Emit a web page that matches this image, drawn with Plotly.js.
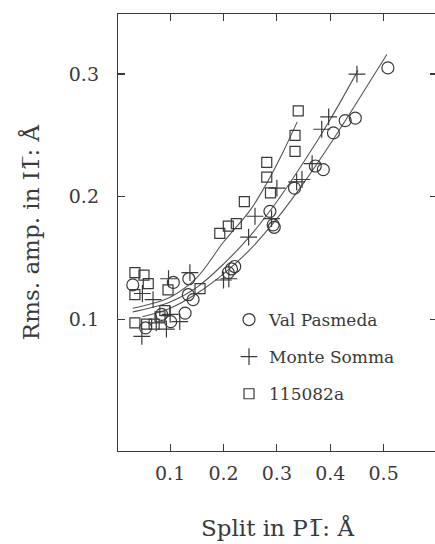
<!DOCTYPE html>
<html>
<head>
<meta charset="utf-8">
<script src="https://cdn.plot.ly/plotly-3.0.1.min.js"></script>
<style>html,body{margin:0;padding:0;overflow:hidden;background:#fff;width:435px;height:544px;}</style>
</head>
<body>
<div id="chart"></div>
<script>
// Data
var seriesNames = ["Val Pasmeda", "Monte Somma", "115082a"];

var valPasmedaX = [0.030, 0.054, 0.084, 0.101, 0.106, 0.128, 0.135, 0.134, 0.143, 0.209, 0.215, 0.221, 0.287, 0.293, 0.295, 0.333, 0.372, 0.387, 0.406, 0.428, 0.447, 0.508];
var valPasmedaY = [0.128, 0.093, 0.104, 0.098, 0.130, 0.105, 0.133, 0.120, 0.116, 0.138, 0.141, 0.143, 0.188, 0.177, 0.175, 0.207, 0.225, 0.222, 0.252, 0.262, 0.264, 0.305];

var monteSommaX = [0.048, 0.047, 0.068, 0.074, 0.093, 0.097, 0.100, 0.118, 0.137, 0.200, 0.210, 0.247, 0.259, 0.290, 0.300, 0.337, 0.347, 0.366, 0.384, 0.397, 0.450];
var monteSommaY = [0.121, 0.086, 0.116, 0.097, 0.092, 0.133, 0.104, 0.098, 0.138, 0.132, 0.133, 0.167, 0.184, 0.182, 0.207, 0.212, 0.214, 0.227, 0.255, 0.265, 0.300];

var s115082aX = [0.034, 0.051, 0.059, 0.034, 0.034, 0.056, 0.070, 0.081, 0.090, 0.096, 0.156, 0.193, 0.209, 0.224, 0.239, 0.281, 0.281, 0.288, 0.334, 0.334, 0.340];
var s115082aY = [0.138, 0.136, 0.129, 0.120, 0.097, 0.096, 0.096, 0.102, 0.107, 0.124, 0.125, 0.170, 0.176, 0.178, 0.196, 0.228, 0.216, 0.203, 0.250, 0.237, 0.270];

// Fitted curves
var fitValPasmedaX = [0.048, 0.10, 0.15, 0.20, 0.25, 0.30, 0.35, 0.40, 0.45, 0.506];
var fitValPasmedaY = [0.102, 0.109, 0.121, 0.137, 0.157, 0.182, 0.211, 0.243, 0.277, 0.316];
var fitMonteSommaX = [0.030, 0.06, 0.10, 0.15, 0.20, 0.25, 0.30, 0.35, 0.40, 0.452];
var fitMonteSommaY = [0.106, 0.109, 0.114, 0.126, 0.145, 0.168, 0.196, 0.228, 0.263, 0.303];
var fit115082aX = [0.030, 0.06, 0.10, 0.15, 0.20, 0.25, 0.281, 0.31, 0.338];
var fit115082aY = [0.109, 0.112, 0.118, 0.134, 0.163, 0.189, 0.211, 0.235, 0.261];

var xTicks = [0.1, 0.2, 0.3, 0.4, 0.5];
var xTickText = ["0.1", "0.2", "0.3", "0.4", "0.5"];
var yTicks = [0.1, 0.2, 0.3];
var yTickText = ["0.1", "0.2", "0.3"];

var ink = "#3a3a3a";
var fontFam = "DejaVu Serif, serif";

function fit(x, y) {
  return {x: x, y: y, mode: "lines", type: "scatter", showlegend: false, hoverinfo: "skip",
          line: {color: "#555", width: 1.1, shape: "spline", smoothing: 1}};
}
function pts(x, y, name, symbol, size, grp) {
  return {x: x, y: y, mode: "markers", type: "scatter", name: name, legendgroup: grp,
          marker: {symbol: symbol, size: size, color: ink, line: {color: ink, width: 1.2}}};
}

var data = [
  fit(fitValPasmedaX, fitValPasmedaY),
  fit(fitMonteSommaX, fitMonteSommaY),
  fit(fit115082aX, fit115082aY),
  pts(valPasmedaX, valPasmedaY, seriesNames[0], "circle-open", 12, "a"),
  pts(monteSommaX, monteSommaY, seriesNames[1], "cross-thin-open", 12, "b"),
  pts(s115082aX, s115082aY, seriesNames[2], "square-open", 10, "c")
];

var axisCommon = {
  showgrid: false, zeroline: false, showline: true, linecolor: ink, linewidth: 1.2,
  mirror: "ticks", ticks: "inside", ticklen: 7, tickwidth: 1.2, tickcolor: ink,
  tickfont: {family: fontFam, size: 19, color: ink}, tickmode: "array"
};

var layout = {
  width: 437, height: 544,
  margin: {l: 118, r: 0, t: 14, b: 93, pad: 0},
  paper_bgcolor: "#fff", plot_bgcolor: "#fff",
  xaxis: Object.assign({}, axisCommon, {
    range: [0.0023, 0.6], tickvals: xTicks, ticktext: xTickText, ticklabelstandoff: 5,
    title: {text: "Split in P1\u0305: \u00c5", font: {family: fontFam, size: 23, color: ink}, standoff: 36}
  }),
  yaxis: Object.assign({}, axisCommon, {
    range: [-0.0075, 0.349], tickvals: yTicks, ticktext: yTickText, ticklabelstandoff: 14,
    title: {text: "Rms. amp. in I1\u0305: \u00c5", font: {family: fontFam, size: 23, color: ink}, standoff: 22}
  }),
  showlegend: true,
  legend: {x: 0.348, y: 0.341, xanchor: "left", yanchor: "top", bgcolor: "rgba(0,0,0,0)",
           font: {family: fontFam, size: 17, color: ink}, traceorder: "grouped", tracegroupgap: 12,
           itemwidth: 30}
};

Plotly.newPlot("chart", data, layout, {displayModeBar: false, staticPlot: true});
</script>
</body>
</html>
